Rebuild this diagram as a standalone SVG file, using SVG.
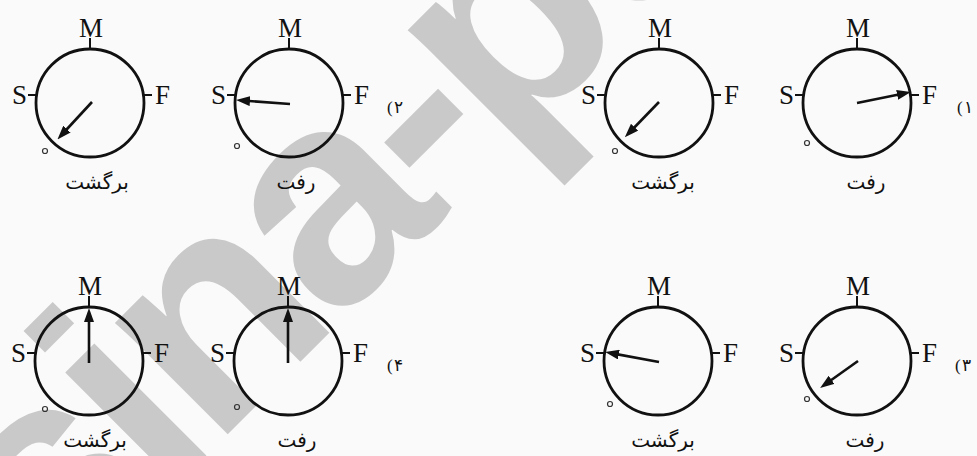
<svg xmlns="http://www.w3.org/2000/svg" width="977" height="456" viewBox="0 0 977 456">
<style>
.bg{fill:#fafafa}
.wm{fill:#c9c9c9;font-family:"Liberation Sans",Arial,sans-serif;font-weight:bold;font-size:300px;letter-spacing:-12px}
.dial{fill:none;stroke:#111;stroke-width:2.8}
.tick{stroke:#111;stroke-width:2}
.needle{stroke:#111;stroke-width:2.6;fill:none}
.deg{fill:none;stroke:#333;stroke-width:1.2}
.lt{font-family:"Liberation Serif","Times New Roman",serif;font-size:27px;fill:#111}
.fa{font-family:"DejaVu Sans",sans-serif;font-size:20px;fill:#111}
.num{font-family:"Liberation Serif","DejaVu Sans",serif;font-size:17px;fill:#111}
</style>
<defs>
<marker id="ah" markerWidth="14" markerHeight="10" refX="8" refY="5" orient="auto" markerUnits="userSpaceOnUse">
<path d="M0,0 L14,5 L0,10 z" fill="#111"/>
</marker>
<g id="face">
<circle class="dial" cx="0" cy="0" r="54"/>
<line class="tick" x1="0" y1="-54" x2="0" y2="-65"/>
<line class="tick" x1="-53" y1="-8" x2="-62" y2="-8"/>
<line class="tick" x1="53" y1="-8" x2="62" y2="-8"/>
<text class="lt" x="1" y="-66" text-anchor="middle">M</text>
<text class="lt" x="-63" y="1" text-anchor="end">S</text>
<text class="lt" x="65" y="1">F</text>
</g>
</defs>
<rect class="bg" x="0" y="0" width="977" height="456"/>
<text class="wm" transform="translate(53,609) rotate(-45)">sina-pe</text>

<g id="dial-2-back">
<use href="#face" x="90" y="103"/>
<circle class="deg" cx="45" cy="151" r="2.5"/>
<line class="needle" x1="92" y1="102" x2="61.5" y2="135" marker-end="url(#ah)"/>
<text class="fa" x="97" y="189" text-anchor="middle">برگشت</text>
</g>
<g id="dial-2-go">
<use href="#face" x="289" y="103"/>
<circle class="deg" cx="237" cy="146" r="2.5"/>
<line class="needle" x1="290" y1="104" x2="242" y2="100.5" marker-end="url(#ah)"/>
<text class="fa" x="296" y="189" text-anchor="middle">رفت</text>
<text class="num" y="113"><tspan x="387">(</tspan><tspan x="394">۲</tspan></text>
</g>
<g id="dial-1-back">
<use href="#face" x="659" y="103"/>
<circle class="deg" cx="615" cy="151" r="2.5"/>
<line class="needle" x1="659" y1="102" x2="629" y2="133" marker-end="url(#ah)"/>
<text class="fa" x="663" y="189" text-anchor="middle">برگشت</text>
</g>
<g id="dial-1-go">
<use href="#face" x="857" y="103"/>
<circle class="deg" cx="807" cy="143" r="2.5"/>
<line class="needle" x1="857" y1="103" x2="905" y2="93.2" marker-end="url(#ah)"/>
<text class="fa" x="866" y="189" text-anchor="middle">رفت</text>
<text class="num" y="113"><tspan x="957">(</tspan><tspan x="964">۱</tspan></text>
</g>

<g id="dial-4-back">
<use href="#face" x="89" y="361"/>
<circle class="deg" cx="45" cy="409" r="2.5"/>
<line class="needle" x1="89" y1="363" x2="89" y2="314" marker-end="url(#ah)"/>
<text class="fa" x="95" y="447" text-anchor="middle">برگشت</text>
</g>
<g id="dial-4-go">
<use href="#face" x="288" y="361"/>
<circle class="deg" cx="237" cy="407" r="2.5"/>
<line class="needle" x1="288" y1="363" x2="288" y2="314" marker-end="url(#ah)"/>
<text class="fa" x="297" y="447" text-anchor="middle">رفت</text>
<text class="num" y="371"><tspan x="387">(</tspan><tspan x="394">۴</tspan></text>
</g>
<g id="dial-3-back">
<use href="#face" x="658" y="361"/>
<circle class="deg" cx="610" cy="404" r="2.5"/>
<line class="needle" x1="659" y1="362" x2="611" y2="353.1" marker-end="url(#ah)"/>
<text class="fa" x="663" y="447" text-anchor="middle">برگشت</text>
</g>
<g id="dial-3-go">
<use href="#face" x="857" y="361"/>
<circle class="deg" cx="807" cy="399" r="2.5"/>
<line class="needle" x1="858" y1="361" x2="825" y2="384.5" marker-end="url(#ah)"/>
<text class="fa" x="865" y="447" text-anchor="middle">رفت</text>
<text class="num" y="371"><tspan x="955">(</tspan><tspan x="962">۳</tspan></text>
</g>
<g id="connectors"/>
</svg>
